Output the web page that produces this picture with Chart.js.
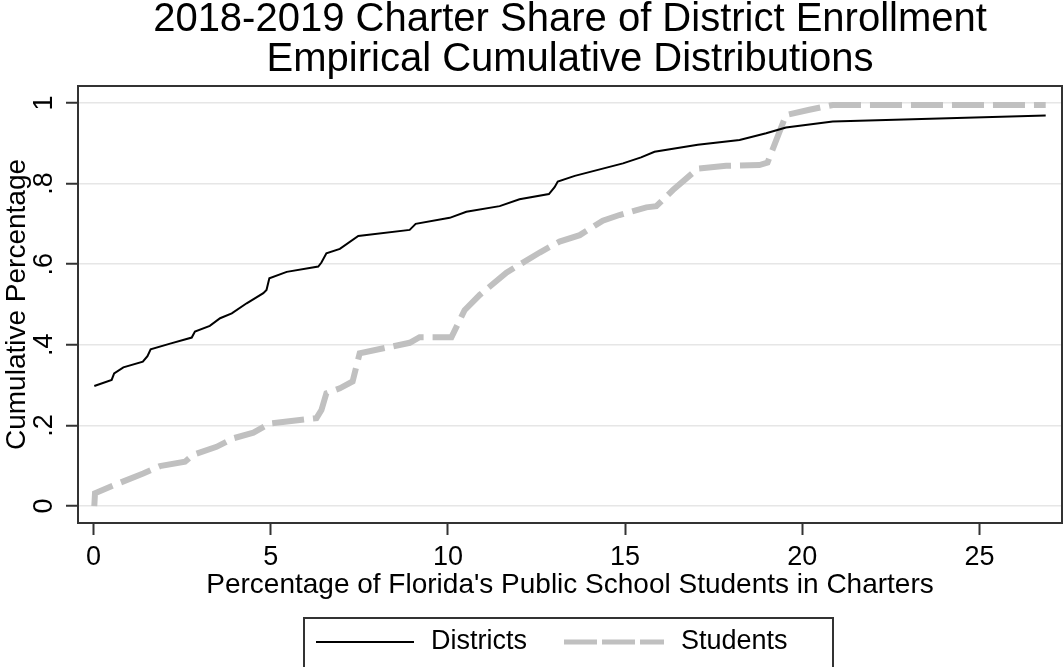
<!DOCTYPE html>
<html>
<head>
    <title>Charter Share ECDF</title>
    <style>
        body { margin: 0; background: #fff; }
        #chart { display: block; }
    </style>
</head>
<body>
    <canvas id="chart" width="1064" height="667"></canvas>

    <script src="https://cdn.jsdelivr.net/npm/chart.js"></script>
    <script>
        // districts curve (x = % of students in charters, y = cumulative share)
        const districtX = [0.02, 0.51, 0.58, 0.84, 1.39, 1.52, 1.61, 2.16, 2.77, 2.86, 3.28, 3.57, 3.90, 4.32, 4.79, 4.88, 4.96, 5.45, 6.34, 6.43, 6.57, 6.95, 7.47, 8.92, 9.09, 10.05, 10.52, 11.46, 12.02, 12.85, 13.01, 13.10, 13.58, 14.94, 15.45, 15.83, 17.05, 18.23, 18.98, 19.54, 20.86, 26.87];
        const districtY = [0.298, 0.313, 0.329, 0.344, 0.358, 0.372, 0.389, 0.403, 0.418, 0.433, 0.447, 0.466, 0.478, 0.503, 0.528, 0.536, 0.565, 0.581, 0.594, 0.604, 0.627, 0.638, 0.670, 0.685, 0.700, 0.715, 0.730, 0.744, 0.761, 0.774, 0.791, 0.805, 0.819, 0.850, 0.865, 0.879, 0.896, 0.908, 0.925, 0.939, 0.954, 0.969];

        // students curve
        const studentX = [0.02, 0.04, 0.47, 1.40, 1.87, 2.58, 2.81, 3.47, 3.94, 4.51, 4.98, 6.29, 6.43, 6.57, 6.95, 7.31, 7.51, 8.92, 9.20, 10.10, 10.47, 10.90, 11.65, 12.59, 13.15, 13.72, 14.37, 14.84, 15.60, 15.88, 16.35, 17.05, 17.85, 18.79, 19.02, 19.54, 20.20, 20.86, 26.87];
        const studentY = [0.000, 0.032, 0.048, 0.081, 0.099, 0.110, 0.127, 0.147, 0.168, 0.182, 0.205, 0.218, 0.238, 0.280, 0.292, 0.309, 0.379, 0.405, 0.419, 0.419, 0.486, 0.524, 0.579, 0.629, 0.656, 0.672, 0.708, 0.722, 0.741, 0.744, 0.784, 0.837, 0.844, 0.846, 0.852, 0.970, 0.983, 0.995, 0.995];

        const xTicks = [0, 5, 10, 15, 20, 25];
        const yTicks = [0, 0.2, 0.4, 0.6, 0.8, 1];
        const yTickLabels = ['0', '.2', '.4', '.6', '.8', '1'];

        const FONT = "'Liberation Sans', Arial, sans-serif";

        function toPoints(xs, ys) {
            return xs.map((x, i) => ({ x: x, y: ys[i] }));
        }

        // frame around the plot region, like stata
        const framePlugin = {
            id: 'frame',
            beforeDatasetsDraw(chart) {
                const a = chart.chartArea, ctx = chart.ctx;
                ctx.save();
                ctx.strokeStyle = '#333';
                ctx.lineWidth = 2;
                ctx.strokeRect(a.left, a.top, a.right - a.left, a.bottom - a.top);
                ctx.restore();
            }
        };

        // boxed legend under the x axis title
        const boxLegend = {
            id: 'boxLegend',
            afterDraw(chart) {
                const ctx = chart.ctx, a = chart.chartArea;
                const sets = chart.data.datasets;
                const mid = (a.left + a.right) / 2;
                const left = mid - 266, top = chart.height - 49, w = 529;
                const yLine = top + 24;
                ctx.save();
                ctx.strokeStyle = '#333';
                ctx.lineWidth = 2;
                ctx.strokeRect(left, top, w, 60);

                // districts sample
                ctx.beginPath();
                ctx.strokeStyle = sets[0].borderColor;
                ctx.lineWidth = 2;
                ctx.setLineDash([]);
                ctx.moveTo(left + 12, yLine);
                ctx.lineTo(left + 110, yLine);
                ctx.stroke();

                // students sample
                ctx.beginPath();
                ctx.strokeStyle = sets[1].borderColor;
                ctx.lineWidth = 5;
                ctx.setLineDash([33, 5]);
                ctx.moveTo(left + 260, yLine);
                ctx.lineTo(left + 360, yLine);
                ctx.stroke();

                ctx.setLineDash([]);
                ctx.fillStyle = '#000';
                ctx.font = '27px ' + FONT;
                ctx.textBaseline = 'middle';
                ctx.fillText(sets[0].label, left + 127, yLine);
                ctx.fillText(sets[1].label, left + 377, yLine);
                ctx.restore();
            }
        };

        new Chart(document.getElementById('chart'), {
            type: 'line',
            data: {
                datasets: [{
                    label: 'Districts',
                    data: toPoints(districtX, districtY),
                    borderColor: '#000',
                    borderWidth: 2,
                    pointRadius: 0,
                    tension: 0,
                    fill: false
                }, {
                    label: 'Students',
                    data: toPoints(studentX, studentY),
                    borderColor: '#c0c0c0',
                    borderWidth: 6,
                    borderDash: [32, 9],
                    borderCapStyle: 'butt',
                    pointRadius: 0,
                    tension: 0,
                    fill: false
                }]
            },
            options: {
                responsive: false,
                animation: false,
                layout: { padding: { left: 0, right: 2, top: 0, bottom: 59 } },
                plugins: {
                    legend: { display: false },
                    tooltip: { enabled: false },
                    title: {
                        display: true,
                        fullSize: false,
                        text: ['2018-2019 Charter Share of District Enrollment', 'Empirical Cumulative Distributions'],
                        color: '#000',
                        font: { family: FONT, size: 40, weight: 'normal', lineHeight: 1.0 },
                        padding: { top: 0, bottom: 6 }
                    }
                },
                scales: {
                    x: {
                        type: 'linear',
                        min: -0.44,
                        max: 27.33,
                        afterBuildTicks: s => { s.ticks = xTicks.map(v => ({ value: v })); },
                        afterFit: s => { s.height = 85; },
                        border: { display: false },
                        grid: { drawOnChartArea: false, drawTicks: true, tickLength: 12, tickColor: '#333', tickWidth: 2 },
                        ticks: { color: '#000', font: { family: FONT, size: 27 }, padding: 6, maxRotation: 0 },
                        title: {
                            display: true,
                            text: "Percentage of Florida's Public School Students in Charters",
                            color: '#000',
                            font: { family: FONT, size: 28 },
                            padding: { top: 0, bottom: 6 }
                        }
                    },
                    y: {
                        type: 'linear',
                        min: -0.042,
                        max: 1.042,
                        afterBuildTicks: s => { s.ticks = yTicks.map(v => ({ value: v })); },
                        afterFit: s => { s.width = 78; },
                        border: { display: false },
                        grid: { color: '#e6e6e6', lineWidth: 1.5, drawTicks: true, tickLength: 12, tickColor: '#333', tickWidth: 2 },
                        ticks: {
                            color: '#000',
                            font: { family: FONT, size: 27 },
                            padding: 10,
                            minRotation: 90,
                            maxRotation: 90,
                            crossAlign: 'center',
                            callback: (v, i) => yTickLabels[i]
                        },
                        title: {
                            display: true,
                            text: 'Cumulative Percentage',
                            color: '#000',
                            font: { family: FONT, size: 28 },
                            padding: { top: 0, bottom: 0 }
                        }
                    }
                }
            },
            plugins: [framePlugin, boxLegend]
        });
    </script>
</body>
</html>
